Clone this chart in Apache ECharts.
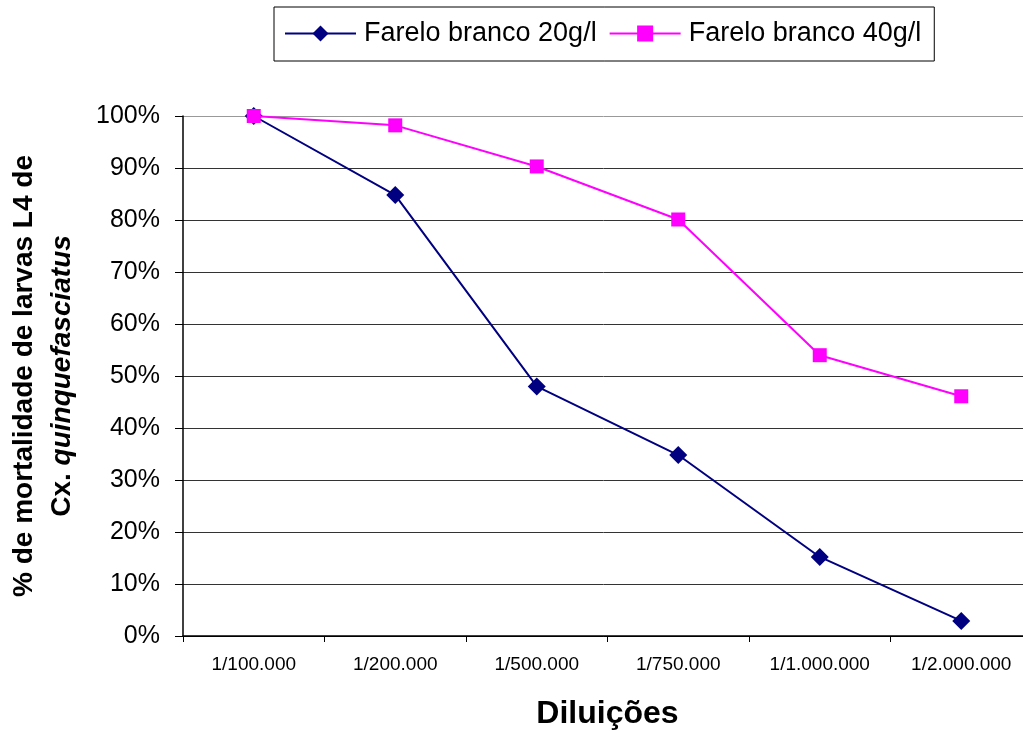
<!DOCTYPE html>
<html>
<head>
<meta charset="utf-8">
<script src="https://cdn.jsdelivr.net/npm/echarts@6/dist/echarts.min.js"></script>
<style>
  html, body { margin: 0; padding: 0; background: #fff; }
  #chart { width: 1023px; height: 731px; }
</style>
</head>
<body>
<div id="chart"></div>
<script>
// Dilutions tested
const categories = ['1/100.000', '1/200.000', '1/500.000', '1/750.000', '1/1.000.000', '1/2.000.000'];
// Mortality (%) of L4 larvae for each bran concentration
const farelo20 = [100, 84.8, 48, 34.8, 15.2, 2.9];
const farelo40 = [100, 98.2, 90.3, 80.1, 54, 46.1];
const seriesNames = ['Farelo branco 20g/l', 'Farelo branco 40g/l'];
const yTicks = { min: 0, max: 100, interval: 10 };

const font = 'Liberation Sans, Arial, sans-serif';
const chart = echarts.init(document.getElementById('chart'), null, { renderer: 'canvas' });

chart.setOption({
  animation: false,
  backgroundColor: '#fff',
  textStyle: { fontFamily: font },
  grid: { left: 183, right: -9, top: 116, bottom: 95, outerBoundsMode: 'none', containLabel: false },
  legend: {
    left: 274, top: 7,
    padding: [13, 13, 14, 10],
    borderColor: '#000', borderWidth: 1,
    itemWidth: 71, itemHeight: 20, itemGap: 12,
    textStyle: { fontFamily: font, fontSize: 27, color: '#000', padding: [0, 0, 0, 3] },
    data: seriesNames
  },
  xAxis: {
    type: 'category',
    data: categories,
    boundaryGap: true,
    axisLine: { lineStyle: { color: '#000', width: 1.5 } },
    axisTick: { show: true, length: 6, lineStyle: { color: '#000' } },
    axisLabel: { fontFamily: font, fontSize: 19, color: '#000', margin: 19 },
    name: 'Diluições',
    nameLocation: 'middle',
    nameGap: 62,
    nameTextStyle: { fontFamily: font, fontSize: 32, fontWeight: 'bold', color: '#000' }
  },
  yAxis: {
    type: 'value',
    min: yTicks.min, max: yTicks.max, interval: yTicks.interval,
    axisLine: { show: true, lineStyle: { color: '#000', width: 1.5 } },
    axisTick: { show: true, length: 8, lineStyle: { color: '#000' } },
    axisLabel: { fontFamily: font, fontSize: 25, color: '#000', margin: 23, formatter: '{value}%' },
    splitLine: {
      show: true,
      lineStyle: { color: ['#000', '#333', '#333', '#333', '#333', '#333', '#333', '#333', '#333', '#333', '#999'], width: 1 }
    },
    name: '{a|% de mortalidade de larvas L4 de}\n{b|Cx. }{c|quinquefasciatus}',
    nameLocation: 'middle',
    nameGap: 102,
    nameRotate: 90,
    nameTextStyle: {
      color: '#000',
      rich: {
        a: { fontFamily: font, fontSize: 28, fontWeight: 'bold', color: '#000', lineHeight: 38 },
        b: { fontFamily: font, fontSize: 28, fontWeight: 'bold', color: '#000', lineHeight: 38 },
        c: { fontFamily: font, fontSize: 28, fontWeight: 'bold', fontStyle: 'italic', color: '#000', lineHeight: 38 }
      }
    }
  },
  series: [
    {
      name: seriesNames[0],
      type: 'line',
      data: farelo20,
      symbol: 'diamond',
      symbolSize: 18,
      lineStyle: { color: '#000080', width: 2 },
      itemStyle: { color: '#000080' },
      z: 3
    },
    {
      name: seriesNames[1],
      type: 'line',
      data: farelo40,
      symbol: 'rect',
      symbolSize: 14,
      lineStyle: { color: '#FF00FF', width: 2 },
      itemStyle: { color: '#FF00FF' },
      z: 4
    }
  ]
});
</script>
</body>
</html>
